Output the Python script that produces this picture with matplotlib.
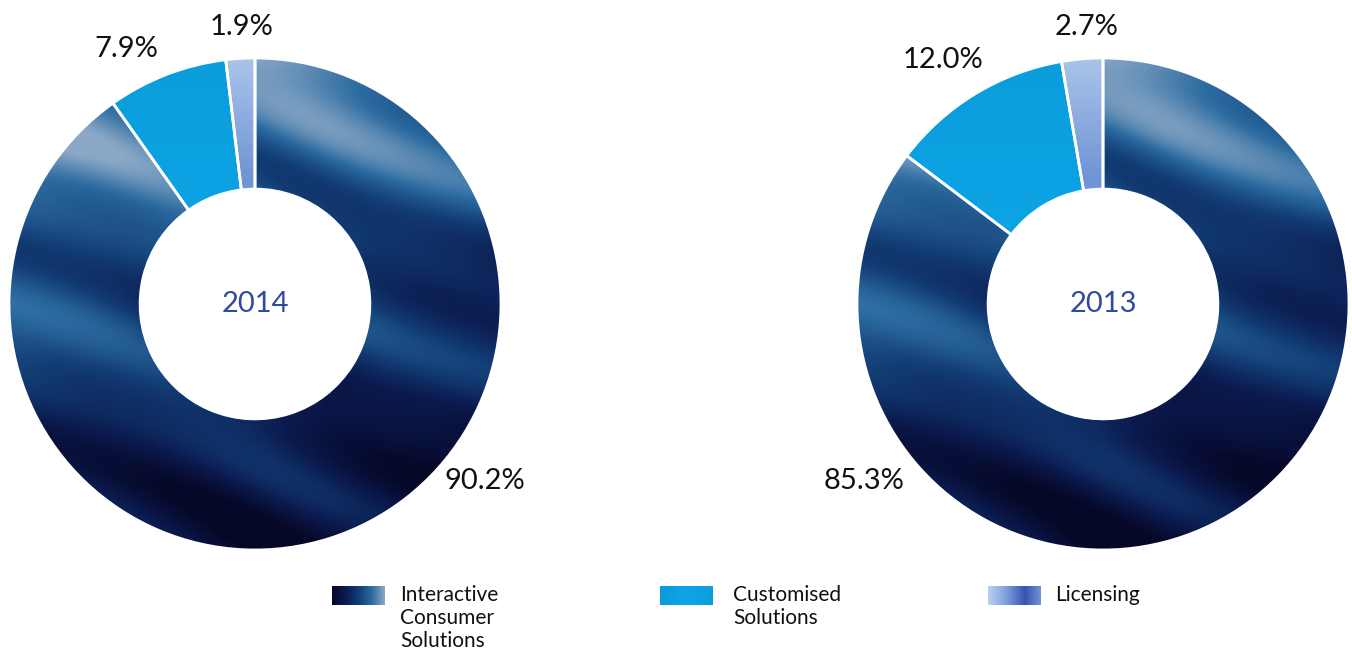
import numpy as np
import matplotlib
matplotlib.use("Agg")
import matplotlib.pyplot as plt
from matplotlib.colors import LinearSegmentedColormap
from matplotlib.patches import Rectangle

plt.rcParams['font.family'] = ['Lato', 'DejaVu Sans']

# ---- data ----
categories = ["Interactive\nConsumer\nSolutions", "Customised\nSolutions", "Licensing"]
years = ["2014", "2013"]
shares_2014 = [90.2, 7.9, 1.9]
shares_2013 = [85.3, 12.0, 2.7]
labels_2014 = ["90.2%", "7.9%", "1.9%"]
labels_2013 = ["85.3%", "12.0%", "2.7%"]

base_colors = ["#1d4a7e", "#0ba2e4", "#7d9fdc"]

W, H = 1352, 651
fig = plt.figure(figsize=(W / 100, H / 100), dpi=100)

ics_cmap = LinearSegmentedColormap.from_list(
    "ics", ["#060828", "#0b1a4e", "#123c74", "#2b6aa0", "#8aa8c6"])
lic_cmap = LinearSegmentedColormap.from_list(
    "lic", ["#5c82c8", "#2f56ad", "#f4f8ff", "#6e93d4", "#a9c3ea"])
cus_cmap = LinearSegmentedColormap.from_list(
    "cus", ["#0a9ada", "#0ea6e8", "#0a9ddc"])


def texture(kind):
    n = 300
    yy, xx = np.mgrid[1:-1:n * 1j, -1:1:n * 1j]
    if kind == 0:
        base = (yy - 0.25 * xx + 1.15) / 2.3
        bands = 0.16 * np.sin(8 * (yy + 0.4 * xx) + 1.2 * np.sin(2.5 * xx)) \
            + 0.07 * np.sin(17 * (yy + 0.35 * xx) + 0.8)
        return np.clip(base * 0.9 + bands + 0.04, 0, 1), ics_cmap
    if kind == 2:
        return (yy + 1) / 2, lic_cmap
    return (yy + 1) / 2, cus_cmap


def donut(center_px, r_px, shares, labels, label_px, year, inner_frac):
    cx, cy = center_px
    ax = fig.add_axes([(cx - r_px) / W, (H - cy - r_px) / H, 2 * r_px / W, 2 * r_px / H])
    wedges, _ = ax.pie(shares, colors=base_colors, startangle=90, counterclock=False,
                       radius=1.0,
                       wedgeprops=dict(width=1 - inner_frac, edgecolor="white", linewidth=2))
    for i, w in enumerate(wedges):
        img, cmap = texture(i)
        im = ax.imshow(img, cmap=cmap, extent=(-1, 1, -1, 1), origin="upper",
                       interpolation="bilinear", zorder=w.get_zorder() + 0.1)
        im.set_clip_path(w)
        w.set_zorder(w.get_zorder() + 0.2)
        w.set_facecolor("none")
    ax.set_xlim(-1, 1)
    ax.set_ylim(-1, 1)
    ax.set_aspect("equal")
    ax.axis("off")
    for lab, (px, py) in zip(labels, label_px):
        ax.text((px - cx) / r_px, (cy - py) / r_px, lab, ha="center", va="center",
                fontsize=21, color="#111111")
    ax.text(0, 0, year, ha="center", va="center", fontsize=21, color="#2e4a9a")
    return ax


donut((255, 304), 246, shares_2014, labels_2014,
      [(485, 481), (126, 49), (242, 27)], years[0], 0.467)
donut((1103, 304), 246, shares_2013, labels_2013,
      [(864, 481), (943, 60), (1087, 27)], years[1], 0.467)

# ---- legend ----
lax = fig.add_axes([0, 0, 1, 1])
lax.set_xlim(0, W)
lax.set_ylim(H, 0)
lax.axis("off")
patch_x = [332, 660, 988]
text_x = [400, 733, 1055]
leg_cmaps = [ics_cmap, cus_cmap,
             LinearSegmentedColormap.from_list("lg", ["#3555b0", "#7d9fdc", "#b8d0f0"])]
for i, cat in enumerate(categories):
    rect = Rectangle((patch_x[i], 586), 53, 19, facecolor="none", edgecolor="none")
    lax.add_patch(rect)
    if i == 0:
        g = np.linspace(0.1, 0.75, 100)[None, :].repeat(10, 0)
    elif i == 2:
        g = np.abs(np.linspace(1, 0, 100) - 0.3)[None, :].repeat(10, 0) + 0.05
    else:
        g = np.linspace(0.2, 0.8, 100)[None, :].repeat(10, 0)
    im = lax.imshow(g, cmap=leg_cmaps[i], extent=(patch_x[i], patch_x[i] + 53, 605, 586),
                    interpolation="bilinear", aspect="auto")
    im.set_clip_path(rect)
    lax.text(text_x[i], 585, cat, ha="left", va="top", fontsize=15,
             color="#111111", linespacing=1.18)
lax.set_xlim(0, W)
lax.set_ylim(H, 0)

fig.savefig("out.png", dpi=100, facecolor="white")
